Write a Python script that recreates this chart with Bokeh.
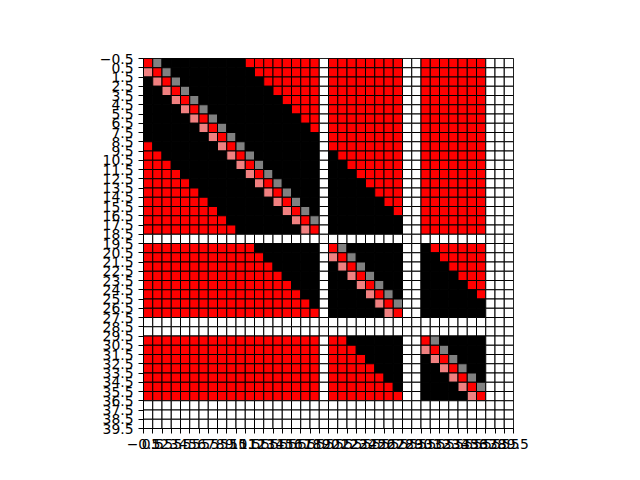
from bokeh.plotting import figure
from bokeh.models import FixedTicker, CustomJSTickFormatter, ColumnDataSource, Range1d
from bokeh.embed import file_html
from bokeh.resources import INLINE

# Matrix, one string per row (40 columns each).
# k = black, r = red, g = gray, p = light red, w = white; spaces only separate blocks.
rows = [
    "rgkkkkkkkkkrrrrrrrr w rrrrrrrr ww rrrrrrr www",
    "prgkkkkkkkkkrrrrrrr w rrrrrrrr ww rrrrrrr www",
    "kprgkkkkkkkkkrrrrrr w rrrrrrrr ww rrrrrrr www",
    "kkprgkkkkkkkkkrrrrr w rrrrrrrr ww rrrrrrr www",
    "kkkprgkkkkkkkkkrrrr w rrrrrrrr ww rrrrrrr www",
    "kkkkprgkkkkkkkkkrrr w rrrrrrrr ww rrrrrrr www",
    "kkkkkprgkkkkkkkkkrr w rrrrrrrr ww rrrrrrr www",
    "kkkkkkprgkkkkkkkkkr w rrrrrrrr ww rrrrrrr www",
    "kkkkkkkprgkkkkkkkkk w rrrrrrrr ww rrrrrrr www",
    "rkkkkkkkprgkkkkkkkk w rrrrrrrr ww rrrrrrr www",
    "rrkkkkkkkprgkkkkkkk w krrrrrrr ww rrrrrrr www",
    "rrrkkkkkkkprgkkkkkk w kkrrrrrr ww rrrrrrr www",
    "rrrrkkkkkkkprgkkkkk w kkkrrrrr ww rrrrrrr www",
    "rrrrrkkkkkkkprgkkkk w kkkkrrrr ww rrrrrrr www",
    "rrrrrrkkkkkkkprgkkk w kkkkkrrr ww rrrrrrr www",
    "rrrrrrrkkkkkkkprgkk w kkkkkkrr ww rrrrrrr www",
    "rrrrrrrrkkkkkkkprgk w kkkkkkkr ww rrrrrrr www",
    "rrrrrrrrrkkkkkkkprg w kkkkkkkk ww rrrrrrr www",
    "rrrrrrrrrrkkkkkkkpr w kkkkkkkk ww rrrrrrr www",
    "wwwwwwwwwwwwwwwwwww w wwwwwwww ww wwwwwww www",
    "rrrrrrrrrrrrkkkkkkk w rgkkkkkk ww krrrrrr www",
    "rrrrrrrrrrrrrkkkkkk w prgkkkkk ww kkrrrrr www",
    "rrrrrrrrrrrrrrkkkkk w kprgkkkk ww kkkrrrr www",
    "rrrrrrrrrrrrrrrkkkk w kkprgkkk ww kkkkrrr www",
    "rrrrrrrrrrrrrrrrkkk w kkkprgkk ww kkkkkrr www",
    "rrrrrrrrrrrrrrrrrkk w kkkkprgk ww kkkkkkr www",
    "rrrrrrrrrrrrrrrrrrk w kkkkkprg ww kkkkkkk www",
    "rrrrrrrrrrrrrrrrrrr w kkkkkkpr ww kkkkkkk www",
    "wwwwwwwwwwwwwwwwwww w wwwwwwww ww wwwwwww www",
    "wwwwwwwwwwwwwwwwwww w wwwwwwww ww wwwwwww www",
    "rrrrrrrrrrrrrrrrrrr w rrkkkkkk ww rgkkkkk www",
    "rrrrrrrrrrrrrrrrrrr w rrrkkkkk ww prgkkkk www",
    "rrrrrrrrrrrrrrrrrrr w rrrrkkkk ww kprgkkk www",
    "rrrrrrrrrrrrrrrrrrr w rrrrrkkk ww kkprgkk www",
    "rrrrrrrrrrrrrrrrrrr w rrrrrrkk ww kkkprgk www",
    "rrrrrrrrrrrrrrrrrrr w rrrrrrrk ww kkkkprg www",
    "rrrrrrrrrrrrrrrrrrr w rrrrrrrr ww kkkkkpr www",
    "wwwwwwwwwwwwwwwwwww w wwwwwwww ww wwwwwww www",
    "wwwwwwwwwwwwwwwwwww w wwwwwwww ww wwwwwww www",
    "wwwwwwwwwwwwwwwwwww w wwwwwwww ww wwwwwww www",
]

palette = {"k": "#000000", "r": "#ff0000", "g": "#808080", "p": "#f08080", "w": "#ffffff"}
tick_values = [i + 0.5 for i in range(-1, 40)]

xs, ys, colors = [], [], []
for r, row in enumerate(rows):
    codes = row.replace(" ", "")
    for c, code in enumerate(codes):
        xs.append(c)
        ys.append(r)
        colors.append(palette[code])

src = ColumnDataSource(dict(
    left=[x - 0.5 for x in xs], right=[x + 0.5 for x in xs],
    top=[y - 0.5 for y in ys], bottom=[y + 0.5 for y in ys], color=colors))

n = len(rows)
p = figure(frame_width=370, frame_height=370,
           x_range=Range1d(-0.5, n - 0.5), y_range=Range1d(n - 0.5, -0.5),
           output_backend="svg", toolbar_location=None,
           min_border_left=143, min_border_right=127, min_border_top=58, min_border_bottom=52)
p.background_fill_color = "white"
p.border_fill_color = "white"
p.grid.visible = False
p.outline_line_color = "black"
p.outline_line_width = 1

p.quad(left="left", right="right", top="top", bottom="bottom", source=src,
       fill_color="color", line_color="black", line_width=1)

fmt = CustomJSTickFormatter(code="return (tick < 0 ? '\\u2212' : '') + Math.abs(tick).toFixed(1);")
for ax in (p.xaxis[0], p.yaxis[0]):
    ax.ticker = FixedTicker(ticks=tick_values)
    ax.formatter = fmt
    ax.minor_tick_line_color = None
    ax.major_tick_in = 0
    ax.major_tick_out = 5
    ax.major_tick_line_color = "black"
    ax.major_tick_line_width = 1
    ax.axis_line_color = "black"
    ax.major_label_standoff = 5
    ax.major_label_text_font = "DejaVu Sans"
    ax.major_label_text_font_size = "13.9px"
    ax.major_label_text_color = "black"

open("out.html", "w").write(file_html(p, INLINE))
